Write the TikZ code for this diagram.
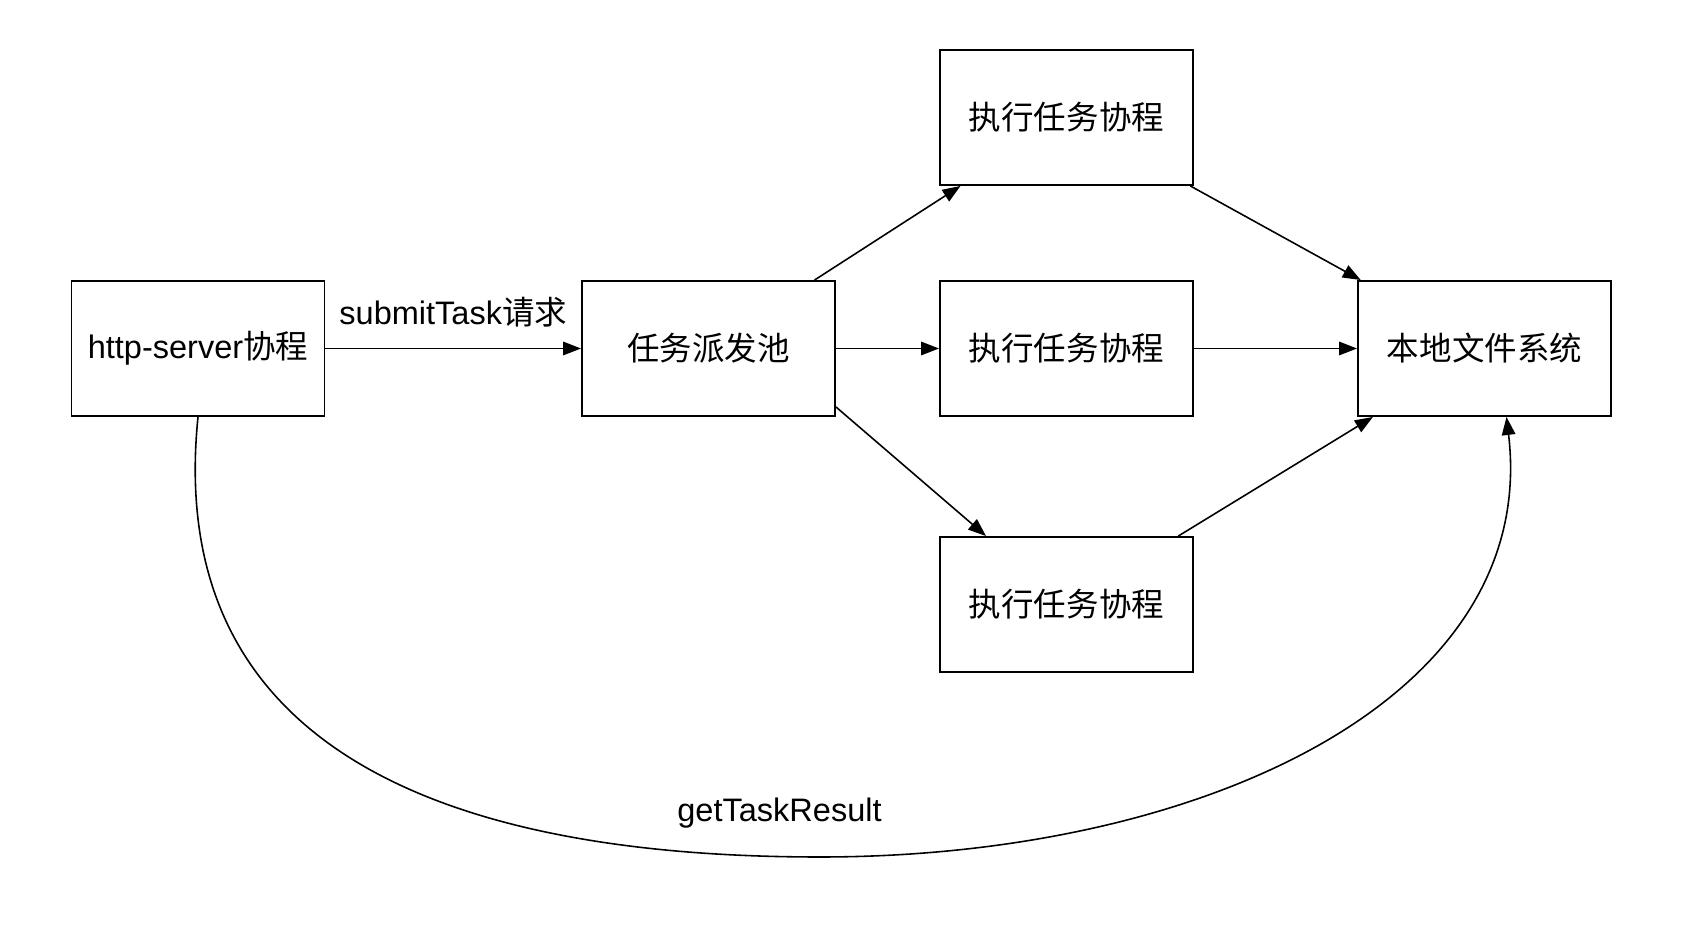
\documentclass[tikz,border=0pt]{standalone}
\usepackage{fontspec}
\setmainfont{Liberation Sans}
\newfontfamily\cjk{Noto Sans CJK SC}
\usepackage{tikz}
\usetikzlibrary{arrows.meta}

\begin{document}
\begin{tikzpicture}[
  proc/.style={draw,line width=1.1pt,minimum width=5.06cm,minimum height=2.7cm,font=\fontsize{18.5}{22}\selectfont},
  link/.style={line width=0.9pt,-{Triangle[length=0.36cm,width=0.27cm]}},
  lbl/.style={font=\fontsize{18.5}{22}\selectfont}]
  \useasboundingbox (0,0) rectangle (33.76,18.64);

  % boxes
  \node[proc] (http) at (3.96,11.67) {http-server{\cjk 协程}};
  \node[proc] (pool) at (14.17,11.67) {\cjk 任务派发池};
  \node[proc] (exectop) at (21.33,16.29) {\cjk 执行任务协程};
  \node[proc] (execmid) at (21.33,11.67) {\cjk 执行任务协程};
  \node[proc] (execbot) at (21.33,6.55) {\cjk 执行任务协程};
  \node[proc] (fs) at (29.69,11.67) {\cjk 本地文件系统};

  % submit request
  \draw[link] (http) -- (pool) node[midway,above=0.29cm,lbl] (submit) {submitTask{\cjk 请求}};

  % dispatch to workers
  \foreach \n in {exectop,execmid} {
    \draw[link] (pool) -- (\n);
  }
  \draw[link] ([yshift=0.2cm]pool.south east) -- ([xshift=0.94cm]execbot.north west);

  % workers write results
  \foreach \n in {exectop,execmid,execbot} {
    \draw[link] (\n) -- (fs);
  }

  % fetch result
  \draw[link] (http.south) .. controls (3.3,3.84) and (8.6,1.5) .. (16.4,1.5)
    .. controls (24,1.5) and (30.8,4.64) .. ([xshift=0.44cm]fs.south);
  \node[lbl] (getres) at (15.59,2.38) {getTaskResult};
\end{tikzpicture}
\end{document}
